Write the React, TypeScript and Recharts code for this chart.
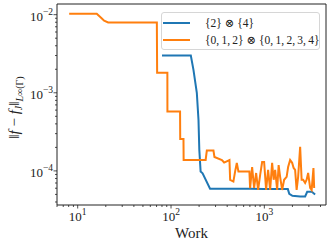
import React from "react";
import { LineChart, Line, XAxis, YAxis, ReferenceArea, Legend } from "recharts";

// axis limits (log-log)
const xDomain = [6.0, 4580];
const yDomain = [3.66e-5, 0.0137];

const xMajor = [10, 100, 1000];
const xMinor = [6, 7, 8, 9, 20, 30, 40, 50, 60, 70, 80, 90, 200, 300, 400, 500, 600, 700, 800, 900, 2000, 3000, 4000];
const yMajor = [1e-4, 1e-3, 1e-2];
const yMinor = [4e-5, 5e-5, 6e-5, 7e-5, 8e-5, 9e-5, 2e-4, 3e-4, 4e-4, 5e-4, 6e-4, 7e-4, 8e-4, 9e-4, 2e-3, 3e-3, 4e-3, 5e-3, 6e-3, 7e-3, 8e-3, 9e-3];

// {2} x {4}
const blueWork = [80, 163, 174, 189, 197, 201, 207.6, 218, 262, 400, 700, 1000, 1400, 1786, 1850, 2000, 2420, 2737, 2880, 3228, 3501];
const blueErr = [3.0e-3, 3.0e-3, 1.97e-3, 1.0e-3, 4.5e-4, 1.86e-4, 9.8e-5, 9.3e-5, 5.9e-5, 5.9e-5, 5.9e-5, 5.85e-5, 5.85e-5, 5.85e-5, 5.1e-5, 4.8e-5, 4.7e-5, 4.7e-5, 5.4e-5, 5.4e-5, 5.0e-5];

// {0,1,2} x {0,1,2,3,4}
const orangeWork = [
  8.1, 16, 17.8, 19.2, 21.2, 70.5, 71, 91.4, 91.5, 125, 125.5, 136, 136.5, 235, 242, 285, 292, 351, 371, 423, 430, 466, 486, 507, 528, 692, 704,
  740, 777, 817, 858, 902, 947, 995, 1045, 1098, 1154, 1212, 1259, 1306, 1372, 1423, 1477, 1551, 1630, 1734, 1799, 1890, 1986, 2061, 2138,
  2219, 2303, 2420, 2511, 2606, 2737, 2840, 2948, 3097, 3214, 3360, 3419,
];
const orangeErr = [
  0.0103, 0.0103, 9.15e-3, 8.38e-3, 7.96e-3, 7.96e-3, 1.8e-3, 1.8e-3, 5.75e-4, 5.75e-4, 2.57e-4, 2.57e-4, 1.38e-4, 1.38e-4, 1.82e-4, 1.82e-4,
  1.51e-4, 1.38e-4, 1.28e-4, 1.38e-4, 7.67e-5, 7.3e-5, 9.8e-5, 1.26e-4, 9.8e-5, 9.8e-5, 6.0e-5,
  1.12e-4, 6.05e-5, 9.4e-5, 5.7e-5, 8.9e-5, 1.3e-4, 1.3e-4, 5.7e-5, 1.03e-4, 5.7e-5, 1.27e-4, 7.7e-5, 1.03e-4, 5.7e-5, 1.19e-4, 8.4e-5,
  5.7e-5, 7.7e-5, 8.4e-5, 1.12e-4, 1.38e-4, 1.27e-4, 1.09e-4, 1.03e-4, 5.7e-5, 8.4e-5, 2.03e-4, 7.7e-5, 7.7e-5, 7.0e-5, 7.7e-5, 9.4e-5,
  6.05e-5, 5.7e-5, 1.09e-4, 6.05e-5,
];

const BLUE = "#1f77b4";
const ORANGE = "#ff7f0e";
const INK = "#222";
const FONT = "'Liberation Serif', 'DejaVu Serif', serif";

const blueData = blueWork.map((x, i) => ({ x, y: blueErr[i] }));
const orangeData = orangeWork.map((x, i) => ({ x, y: orangeErr[i] }));

const isMajor = (v: number) => Math.abs(Math.log10(v) - Math.round(Math.log10(v))) < 1e-6;
const expLabel = (v: number) => {
  const e = Math.round(Math.log10(v));
  return e < 0 ? "\u2212" + Math.abs(e) : String(e);
};

const XTick = (props: any) => {
  const { x, y, payload } = props;
  const major = isMajor(payload.value);
  return (
    <g>
      <line x1={x} x2={x} y1={y} y2={y + (major ? 3.5 : 2)} stroke={INK} strokeWidth={0.8} />
      {major && (
        <text x={x} y={y + 16} textAnchor="middle" fontFamily={FONT} fontSize={13} fill={INK}>
          10
          <tspan dy={-6} fontSize={9.5}>
            {expLabel(payload.value)}
          </tspan>
        </text>
      )}
    </g>
  );
};

const YTick = (props: any) => {
  const { x, y, payload } = props;
  const major = isMajor(payload.value);
  return (
    <g>
      <line x1={x} x2={x - (major ? 3.5 : 2)} y1={y} y2={y} stroke={INK} strokeWidth={0.8} />
      {major && (
        <text x={x - 4} y={y + 6.5} textAnchor="end" fontFamily={FONT} fontSize={13} fill={INK}>
          10
          <tspan dy={-6} fontSize={9.5}>
            {expLabel(payload.value)}
          </tspan>
        </text>
      )}
    </g>
  );
};

const YLabel = (props: any) => {
  const vb = props.viewBox;
  const cx = vb.x + 19;
  const cy = vb.y + vb.height / 2 + 3;
  return (
    <text transform={`translate(${cx},${cy}) rotate(-90)`} textAnchor="middle" fontFamily={FONT} fontSize={15} fill={INK}>
      {"\u2016"}
      <tspan fontStyle="italic">f</tspan>
      {" \u2212 "}
      <tspan fontStyle="italic">f</tspan>
      <tspan dy={3} fontSize={10} fontStyle="italic">J</tspan>
      <tspan dy={-3}>{"\u2016"}</tspan>
      <tspan dy={4} fontSize={10}>
        <tspan fontStyle="italic">L</tspan>
        {"\u221E(\u0393)"}
      </tspan>
    </text>
  );
};

const XLabel = (props: any) => {
  const vb = props.viewBox;
  return (
    <text x={vb.x + vb.width / 2} y={vb.y + 33} textAnchor="middle" fontFamily={FONT} fontSize={15} fill={INK}>
      Work
    </text>
  );
};

const legendItems = [
  { label: "{2} \u2297 {4}", color: BLUE },
  { label: "{0,\u20091,\u20092} \u2297 {0,\u20091,\u20092,\u20093,\u20094}", color: ORANGE },
];

const LegendBox = () => (
  <div
    style={{
      width: 159,
      height: 38,
      boxSizing: "border-box",
      border: "1px solid #d6d6d6",
      borderRadius: 3,
      background: "rgba(255,255,255,0.85)",
      fontFamily: FONT,
      fontSize: 11.5,
      color: INK,
      padding: "1px 0 0 1px",
    }}
  >
    {legendItems.map((it) => (
      <div key={it.label} style={{ display: "flex", alignItems: "center", height: 17.5, whiteSpace: "nowrap" }}>
        <span style={{ display: "inline-block", flexShrink: 0, width: 27, height: 2, background: it.color, marginRight: 15 }} />
        <span>{it.label}</span>
      </div>
    ))}
  </div>
);

export default function App() {
  return (
    <div style={{ position: "absolute", left: 0, top: 0, width: 332, height: 246, background: "#fff" }}>
      <LineChart width={332} height={246} margin={{ top: 4, right: 6, bottom: 0, left: 0 }}>
        <XAxis
          dataKey="x"
          type="number"
          scale="log"
          domain={xDomain}
          allowDataOverflow
          ticks={[...xMajor, ...xMinor]}
          interval={0}
          tickSize={0}
          tickMargin={0}
          axisLine={false}
          tickLine={false}
          tick={<XTick />}
          height={41}
          label={<XLabel />}
        />
        <YAxis
          dataKey="y"
          type="number"
          scale="log"
          domain={yDomain}
          allowDataOverflow
          ticks={[...yMajor, ...yMinor]}
          interval={0}
          tickSize={0}
          tickMargin={0}
          axisLine={false}
          tickLine={false}
          tick={<YTick />}
          width={57}
          label={<YLabel />}
        />
        <Line data={blueData} dataKey="y" stroke={BLUE} strokeWidth={2} dot={false} isAnimationActive={false} type="linear" />
        <Line data={orangeData} dataKey="y" stroke={ORANGE} strokeWidth={2} dot={false} isAnimationActive={false} type="linear" />
        <ReferenceArea
          x1={xDomain[0]}
          x2={xDomain[1]}
          y1={yDomain[0]}
          y2={yDomain[1]}
          fill="none"
          fillOpacity={0}
          stroke={INK}
          strokeWidth={1}
          ifOverflow="visible"
        />
        <Legend
          layout="horizontal"
          verticalAlign="middle"
          align="center"
          content={<LegendBox />}
          wrapperStyle={{ left: 161, top: 12, width: 159, height: 38 }}
        />
      </LineChart>
    </div>
  );
}
